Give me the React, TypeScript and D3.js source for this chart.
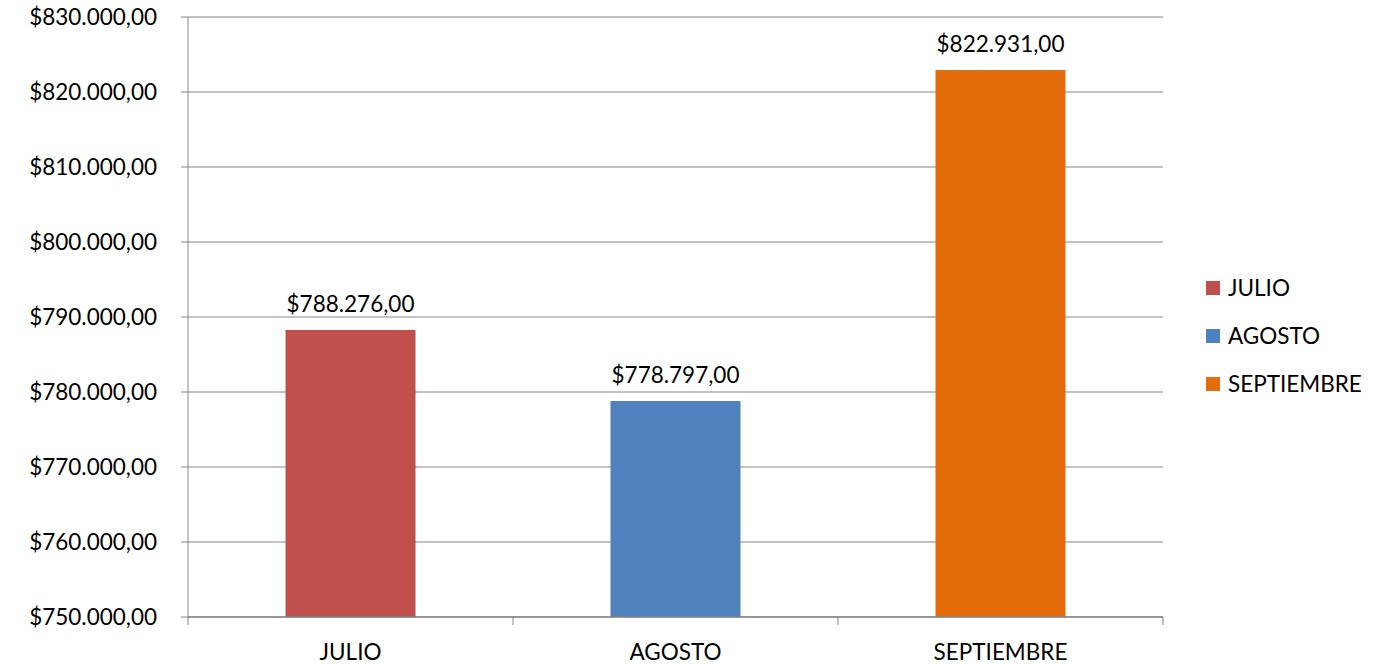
import React from "react";
import * as d3 from "d3";

const categories = ["JULIO", "AGOSTO", "SEPTIEMBRE"];
const values = [788276, 778797, 822931];
const colors = ["#C0504D", "#4F81BD", "#E46C0A"];
const yTicks = [750000, 760000, 770000, 780000, 790000, 800000, 810000, 820000, 830000];

const W = 1385, H = 666;
const margin = { left: 188, right: 222, top: 17, bottom: 49 };
const FONT = "Lato, 'Open Sans', sans-serif";
const FS = 22.5;

const fmt = (v: number) => {
  const s = Math.round(v).toString().replace(/\B(?=(\d{3})+(?!\d))/g, ".");
  return "$" + s + ",00";
};

export default function App() {
  const x = d3.scaleBand().domain(categories).range([margin.left, W - margin.right]).paddingInner(0.6).paddingOuter(0.3);
  const xb = d3.scaleBand().domain(categories).range([margin.left, W - margin.right]);
  const y = d3.scaleLinear().domain([750000, 830000]).range([H - margin.bottom, margin.top]);
  const axisColor = "#868686";
  const x0 = margin.left, x1 = W - margin.right, yb = H - margin.bottom;
  return (
    <svg width={W} height={H} style={{ position: "absolute", left: 0, top: 0, fontFamily: FONT }}>
      <rect width={W} height={H} fill="#fff" />
      {yTicks.map((t) => (
        <g key={t}>
          <line x1={x0 - 7} x2={x1} y1={y(t)} y2={y(t)} stroke={axisColor} strokeWidth={1} />
          <text x={x0 - 31} y={y(t)} dy="0.35em" textAnchor="end" fontSize={FS} fill="#000">{fmt(t)}</text>
        </g>
      ))}
      <line x1={x0} x2={x0} y1={margin.top} y2={yb} stroke={axisColor} />
      {categories.map((c, i) => (
        <g key={c}>
          <rect x={x(c)!} y={y(values[i])} width={x.bandwidth()} height={yb - y(values[i])} fill={colors[i]} />
          <text x={x(c)! + x.bandwidth() / 2} y={y(values[i]) - 18} textAnchor="middle" fontSize={FS} fill="#000">{fmt(values[i])}</text>
          <text x={xb(c)! + xb.bandwidth() / 2} y={652} dy="0.35em" textAnchor="middle" fontSize={FS} fill="#000">{c}</text>
        </g>
      ))}
      <line x1={x0} x2={x1} y1={yb} y2={yb} stroke={axisColor} strokeWidth={1.5} />
      {[...categories.map((c) => xb(c)!), x1].map((v, i) => (
        <line key={i} x1={v} x2={v} y1={yb} y2={yb + 8} stroke={axisColor} />
      ))}
      {categories.map((c, i) => (
        <g key={"l" + c} transform={`translate(1206, ${288 + i * 48})`}>
          <rect x={0} y={-7} width={14} height={14} fill={colors[i]} />
          <text x={22} y={0} dy="0.35em" fontSize={FS} fill="#000">{c}</text>
        </g>
      ))}
    </svg>
  );
}
